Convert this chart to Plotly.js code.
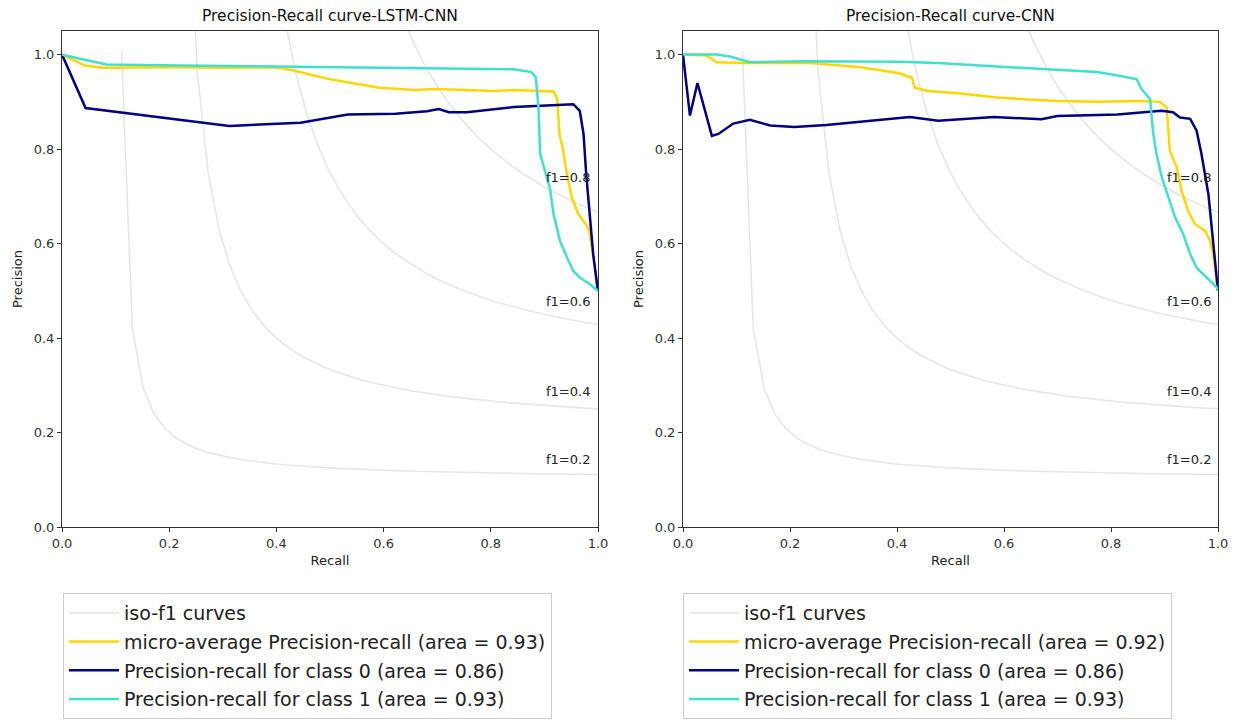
<!DOCTYPE html>
<html><head><meta charset="utf-8">
<script src="https://cdn.plot.ly/plotly-3.0.1.min.js"></script>
<style>html,body{margin:0;padding:0;background:#fff}</style>
</head><body><div id="chart" style="width:1244px;height:720px"></div>
<script>
// ---- data ----
const lstmMicroRecall = [0, 0.042, 0.075, 0.20, 0.30, 0.40, 0.43, 0.50, 0.592, 0.659, 0.696, 0.806, 0.843, 0.917, 0.924, 0.928, 0.935, 0.942, 0.951, 0.963, 0.979, 0.984, 1.0];
const lstmMicroPrec   = [1.0, 0.977, 0.972, 0.973, 0.972, 0.973, 0.967, 0.948, 0.930, 0.925, 0.927, 0.923, 0.925, 0.922, 0.906, 0.832, 0.797, 0.747, 0.698, 0.663, 0.638, 0.627, 0.5];
const lstmC0Recall = [0, 0.044, 0.312, 0.445, 0.533, 0.622, 0.681, 0.703, 0.722, 0.755, 0.843, 0.947, 0.954, 0.966, 0.973, 0.978, 0.985, 0.991, 0.999, 1.0];
const lstmC0Prec   = [1.0, 0.887, 0.849, 0.856, 0.873, 0.875, 0.880, 0.885, 0.878, 0.878, 0.889, 0.894, 0.895, 0.881, 0.832, 0.747, 0.663, 0.578, 0.507, 0.5];
const lstmC1Recall = [0, 0.083, 0.222, 0.472, 0.694, 0.842, 0.876, 0.884, 0.889, 0.892, 0.901, 0.910, 0.917, 0.929, 0.942, 0.954, 0.966, 0.985, 1.0];
const lstmC1Prec   = [1.0, 0.979, 0.977, 0.974, 0.972, 0.969, 0.963, 0.952, 0.888, 0.790, 0.754, 0.719, 0.663, 0.606, 0.571, 0.542, 0.528, 0.514, 0.50];

const cnnMicroRecall = [0, 0.044, 0.063, 0.119, 0.238, 0.328, 0.402, 0.428, 0.433, 0.458, 0.514, 0.588, 0.663, 0.700, 0.774, 0.849, 0.892, 0.904, 0.910, 0.923, 0.932, 0.944, 0.957, 0.976, 0.985, 0.991, 1.0];
const cnnMicroPrec   = [1.0, 0.998, 0.984, 0.982, 0.982, 0.974, 0.961, 0.951, 0.930, 0.923, 0.918, 0.909, 0.904, 0.902, 0.900, 0.902, 0.900, 0.888, 0.797, 0.761, 0.712, 0.669, 0.641, 0.627, 0.606, 0.578, 0.5];
const cnnC0Recall = [0, 0.013, 0.027, 0.054, 0.066, 0.094, 0.125, 0.163, 0.208, 0.268, 0.424, 0.477, 0.581, 0.670, 0.700, 0.812, 0.894, 0.904, 0.916, 0.929, 0.948, 0.960, 0.969, 0.982, 0.990, 0.996, 1.0];
const cnnC0Prec   = [1.0, 0.871, 0.940, 0.828, 0.832, 0.854, 0.862, 0.850, 0.847, 0.851, 0.868, 0.860, 0.868, 0.863, 0.870, 0.873, 0.881, 0.880, 0.878, 0.867, 0.864, 0.839, 0.790, 0.705, 0.620, 0.549, 0.5];
const cnnC1Recall = [0, 0.063, 0.088, 0.113, 0.125, 0.223, 0.402, 0.477, 0.588, 0.700, 0.774, 0.817, 0.848, 0.857, 0.873, 0.879, 0.885, 0.895, 0.907, 0.920, 0.935, 0.948, 0.960, 0.979, 0.998, 1.0];
const cnnC1Prec   = [1.0, 1.0, 0.996, 0.989, 0.984, 0.986, 0.985, 0.982, 0.975, 0.967, 0.963, 0.955, 0.948, 0.927, 0.906, 0.832, 0.790, 0.740, 0.698, 0.655, 0.620, 0.578, 0.549, 0.528, 0.507, 0.50];

const plotTitles = ["Precision-Recall curve-LSTM-CNN", "Precision-Recall curve-CNN"];
const legendNames = {
  iso: "iso-f1 curves",
  micro: ["micro-average Precision-recall (area = 0.93)", "micro-average Precision-recall (area = 0.92)"],
  c0: ["Precision-recall for class 0 (area = 0.86)", "Precision-recall for class 0 (area = 0.86)"],
  c1: ["Precision-recall for class 1 (area = 0.93)", "Precision-recall for class 1 (area = 0.93)"]
};
const f1Levels = [0.2, 0.4, 0.6, 0.8];
const tickVals = [0, 0.2, 0.4, 0.6, 0.8, 1.0];

// iso-f1 guide curves (definition of the F1 level sets, as in the original code)
const isoRecall = [];
for (let i = 0; i < 50; i++) isoRecall.push(0.01 + i * 0.99 / 49);
function isoCurve(f) {
  const xs = [], ys = [];
  isoRecall.forEach(r => { const p = f * r / (2 * r - f); if (p >= 0) { xs.push(r); ys.push(p); } });
  return {xs, ys, labelY: f * isoRecall[45] / (2 * isoRecall[45] - f) + 0.02};
}

const FONT = "DejaVu Sans, Verdana, sans-serif";
const W = 1244, H = 720;
const traces = [], annotations = [];
const panels = [
  {xa: 'x', ya: 'y', leg: 'legend', micro: [lstmMicroRecall, lstmMicroPrec], c0: [lstmC0Recall, lstmC0Prec], c1: [lstmC1Recall, lstmC1Prec]},
  {xa: 'x2', ya: 'y2', leg: 'legend2', micro: [cnnMicroRecall, cnnMicroPrec], c0: [cnnC0Recall, cnnC0Prec], c1: [cnnC1Recall, cnnC1Prec]}
];
const domains = [[62 / W, 598 / W], [683 / W, 1218 / W]];
const yDomain = [(H - 527) / H, (H - 31) / H];

panels.forEach((p, k) => {
  f1Levels.forEach((f, j) => {
    const c = isoCurve(f);
    traces.push({x: c.xs, y: c.ys, xaxis: p.xa, yaxis: p.ya, mode: 'lines', type: 'scatter',
      line: {color: 'rgba(128,128,128,0.2)', width: 1.6}, name: legendNames.iso,
      legend: p.leg, legendgroup: 'iso' + k, showlegend: j === 0, hoverinfo: 'skip'});
    annotations.push({x: 0.9, y: c.labelY, xref: p.xa, yref: p.ya, text: 'f1=' + f.toFixed(1),
      showarrow: false, xanchor: 'left', yanchor: 'bottom', yshift: -4,
      font: {family: FONT, size: 13, color: '#222'}});
  });
  traces.push({x: p.micro[0], y: p.micro[1], xaxis: p.xa, yaxis: p.ya, mode: 'lines', type: 'scatter',
    line: {color: 'gold', width: 2.5}, name: legendNames.micro[k], legend: p.leg, legendgroup: 'm' + k});
  traces.push({x: p.c0[0], y: p.c0[1], xaxis: p.xa, yaxis: p.ya, mode: 'lines', type: 'scatter',
    line: {color: 'navy', width: 2.5}, name: legendNames.c0[k], legend: p.leg, legendgroup: 'a' + k});
  traces.push({x: p.c1[0], y: p.c1[1], xaxis: p.xa, yaxis: p.ya, mode: 'lines', type: 'scatter',
    line: {color: 'turquoise', width: 2.5}, name: legendNames.c1[k], legend: p.leg, legendgroup: 'b' + k});
  annotations.push({x: (domains[k][0] + domains[k][1]) / 2, y: (H - 16) / H, xref: 'paper', yref: 'paper',
    text: plotTitles[k], showarrow: false, xanchor: 'center', yanchor: 'middle',
    font: {family: FONT, size: 15.5, color: '#111'}});
});

function xAxis(k) {
  return {domain: domains[k], range: [0, 1], tickvals: tickVals, tickformat: '.1f', ticks: 'outside', ticklen: 4,
    tickcolor: '#333', showline: true, mirror: true, linecolor: '#333', linewidth: 1, showgrid: false, zeroline: false,
    tickfont: {family: FONT, size: 13, color: '#333'}, anchor: k ? 'y2' : 'y',
    title: {text: 'Recall', font: {family: FONT, size: 13, color: '#222'}, standoff: 6}, automargin: false};
}
function yAxis(k) {
  return {domain: yDomain, range: [0, 1.05], tickvals: tickVals, tickformat: '.1f', ticks: 'outside', ticklen: 4,
    tickcolor: '#333', showline: true, mirror: true, linecolor: '#333', linewidth: 1, showgrid: false, zeroline: false,
    tickfont: {family: FONT, size: 13, color: '#333'}, anchor: k ? 'x2' : 'x',
    title: {text: 'Precision', font: {family: FONT, size: 13, color: '#222'}, standoff: 8}, automargin: false};
}
function legendCfg(k) {
  return {x: (k ? 683 : 63) / W, y: (H - 593) / H, xanchor: 'left', yanchor: 'top',
    bgcolor: 'rgba(255,255,255,0.8)', bordercolor: '#cccccc', borderwidth: 1,
    font: {family: FONT, size: 19, color: '#222'}, tracegroupgap: 1, itemwidth: 50, traceorder: 'grouped'};
}

const layout = {
  width: W, height: H, margin: {l: 0, r: 0, t: 0, b: 0}, paper_bgcolor: '#fff', plot_bgcolor: '#fff',
  xaxis: xAxis(0), yaxis: yAxis(0), xaxis2: xAxis(1), yaxis2: yAxis(1),
  legend: legendCfg(0), legend2: legendCfg(1), annotations: annotations, showlegend: true,
  font: {family: FONT}
};
Plotly.newPlot('chart', traces, layout, {displayModeBar: false, staticPlot: true});
</script></body></html>
